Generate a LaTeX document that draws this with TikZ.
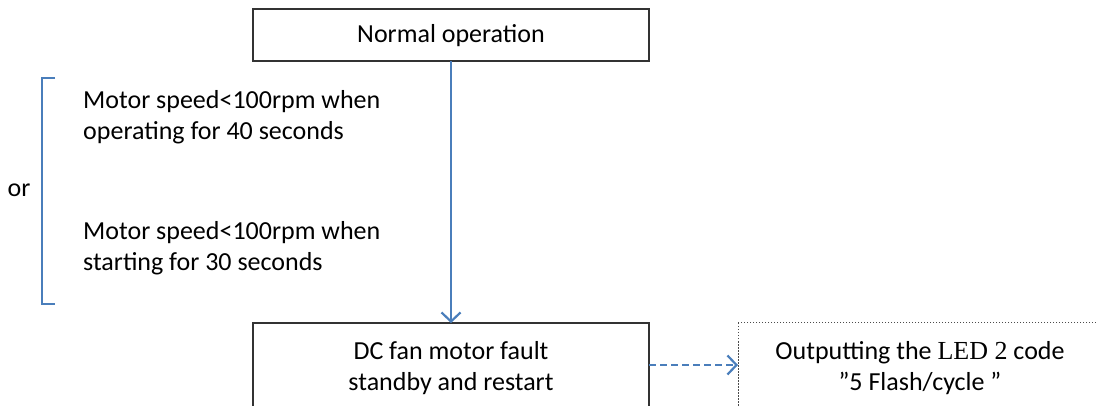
\documentclass[tikz,border=0pt]{standalone}
\usepackage{fontspec}
\setmainfont{Carlito}
\newfontfamily\serifled{Liberation Serif}
\usetikzlibrary{arrows.meta}
\definecolor{flowblue}{RGB}{74,126,187}
\tikzset{
  x=1pt, y=-1pt,
  every node/.style={font=\fontsize{26}{30.5}\selectfont, inner sep=0pt},
  statebox/.style={draw=black!80, line width=1.3pt},
  notebox/.style={draw=black!70, line width=1pt, dash pattern=on 1.5pt off 1.5pt},
  flow/.style={draw=flowblue, line width=2.2pt, -{Straight Barb[length=9pt,width=19pt,line width=2.2pt]}},
  cond/.style={align=left, anchor=west},
}
\begin{document}
\begin{tikzpicture}
\useasboundingbox (0,0) rectangle (1096,406);
\clip (0,0) rectangle (1096,406);

% state boxes
\draw[statebox] (253,9) rectangle (649,61);
\node (normal) at (451,36) {Normal operation};
\coordinate (normalS) at (451,61);

\draw[statebox] (253,323) rectangle (649,430);
\node[align=center] (fault) at (451,368) {DC fan motor fault\\standby and restart};
\coordinate (faultN) at (451,323);
\coordinate (faultE) at (649,365);

\draw[notebox] (738,323) rectangle (1110,430);
\node[align=center] (led) at (920,368) {Outputting the {\serifled LED 2} code\\”5 Flash/cycle ”};
\coordinate (ledW) at (738,365);

% transitions
\draw[flow] (normalS) -- (faultN);
\draw[flow, dash pattern=on 7pt off 4pt] (faultE) -- (ledW);

% alternative conditions
\node[cond] (c1) at (83,117) {Motor speed<100rpm when\\operating for 40 seconds};
\node[cond] (c2) at (83,248) {Motor speed<100rpm when\\starting for 30 seconds};
\draw[flowblue, line width=1.4pt] (55,78) -- (42,78) -- (42,304) -- (55,304);
\node (or) at (19,190) {or};
\end{tikzpicture}
\end{document}
